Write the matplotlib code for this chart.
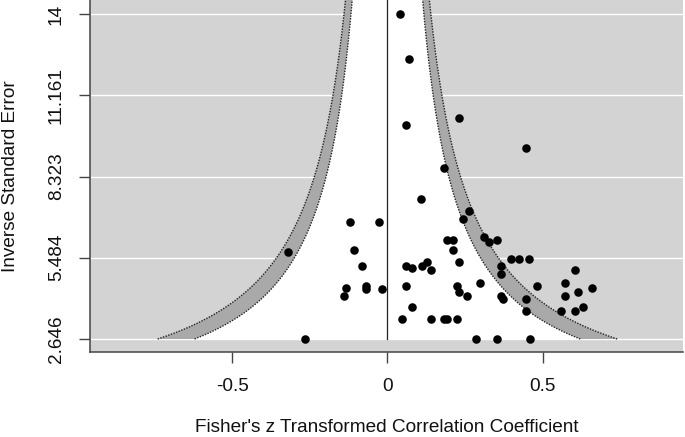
import numpy as np
import matplotlib
matplotlib.use("Agg")
import matplotlib.pyplot as plt

plt.rcParams['font.family'] = ['Liberation Sans', 'DejaVu Sans']

# Fisher's z effect sizes and inverse standard errors
effect = [0.040, 0.071, 0.059, 0.231, 0.446, 0.181, 0.107, 0.263, 0.243, -0.121,
          -0.028, 0.192, 0.213, 0.310, 0.329, 0.353, -0.321, -0.108, 0.213, 0.398,
          0.424, 0.458, -0.082, 0.059, 0.079, 0.111, 0.129, 0.141, 0.231, 0.366,
          0.366, 0.605, -0.132, -0.141, -0.070, -0.070, -0.019, 0.059, 0.224, 0.231,
          0.256, 0.298, 0.482, 0.573, 0.573, 0.616, 0.658, 0.366, 0.372, 0.446,
          0.446, 0.560, 0.605, 0.630, 0.079, 0.047, 0.141, 0.181, 0.192, 0.224,
          -0.266, 0.286, 0.353, 0.459]
seinv = [14.00, 12.417, 10.133, 10.356, 9.329, 8.610, 7.537, 7.128, 6.838, 6.744,
         6.744, 6.115, 6.115, 6.220, 6.024, 6.115, 5.675, 5.766, 5.766, 5.430,
         5.430, 5.430, 5.207, 5.207, 5.137, 5.207, 5.347, 5.046, 5.336, 5.207,
         4.917, 5.046, 4.428, 4.159, 4.508, 4.403, 4.403, 4.498, 4.498, 4.278,
         4.159, 4.613, 4.498, 4.613, 4.159, 4.278, 4.417, 4.159, 4.044, 4.044,
         3.635, 3.635, 3.635, 3.774, 3.774, 3.345, 3.345, 3.345, 3.345, 3.345,
         2.646, 2.646, 2.646, 2.646]

yticks = [2.646, 5.484, 8.323, 11.161, 14]
ytick_labels = ["2.646", "5.484", "8.323", "11.161", "14"]
xticks = [-0.5, 0, 0.5]
xtick_labels = ["-0.5", "0", "0.5"]
z_levels = [1.645, 1.96]   # 90% and 95% contours
ref_line = 0.0

W, H = 685, 437
fig = plt.figure(figsize=(W / 100, H / 100), dpi=100)
ax = fig.add_axes([90 / W, (H - 352) / H, (683 - 90) / W, 352 / H])

ylo, yhi = 2.192, 14.489
ax.set_xlim(-0.959, 0.953)
ax.set_ylim(ylo, yhi)
ax.set_facecolor('#D3D3D3')

for yt in yticks:
    ax.axhline(yt, color='white', lw=1.0, zorder=1)

ymin_f = min(seinv)
yy = np.linspace(ymin_f, yhi + 0.5, 400)
inner = z_levels[0] / yy
outer = z_levels[1] / yy

ax.fill(np.concatenate([ref_line - outer, (ref_line + outer)[::-1]]),
        np.concatenate([yy, yy[::-1]]), color='#A9A9A9', lw=0, zorder=2)
ax.fill(np.concatenate([ref_line - inner, (ref_line + inner)[::-1]]),
        np.concatenate([yy, yy[::-1]]), color='white', lw=0, zorder=3)

for z in z_levels:
    for s in (-1, 1):
        ax.plot(ref_line + s * z / yy, yy, color='#222222', lw=1.0,
                linestyle=(0, (1, 1)), zorder=4)

ax.plot([ref_line, ref_line], [ymin_f, yhi + 0.5], color='#222222', lw=0.9, zorder=5)

ax.scatter(effect, seinv, s=38, color='black', zorder=6, linewidths=0)

for side in ['top', 'right']:
    ax.spines[side].set_visible(False)
for side in ['left', 'bottom']:
    ax.spines[side].set_color('#444444')
    ax.spines[side].set_linewidth(1.1)
    ax.spines[side].set_zorder(7)

ax.set_xticks(xticks)
ax.set_xticklabels(xtick_labels)
ax.set_yticks(yticks)
ax.set_yticklabels(ytick_labels, rotation=90, va='center')
ax.tick_params(axis='both', direction='out', length=8, width=1.0, color='#444444',
               labelsize=13.7, labelcolor='#111111')
ax.tick_params(axis='x', pad=11)
ax.tick_params(axis='y', pad=10)

ax.set_xlabel("Fisher's z Transformed Correlation Coefficient", fontsize=13.7,
              color='#111111', va='center')
ax.xaxis.set_label_coords(0.5, (352 - 428) / 352)
ax.set_ylabel("Inverse Standard Error", fontsize=13.7, color='#111111', va='center')
ax.yaxis.set_label_coords((10 - 90) / 593, 0.5)

fig.savefig("out.png", dpi=100)
